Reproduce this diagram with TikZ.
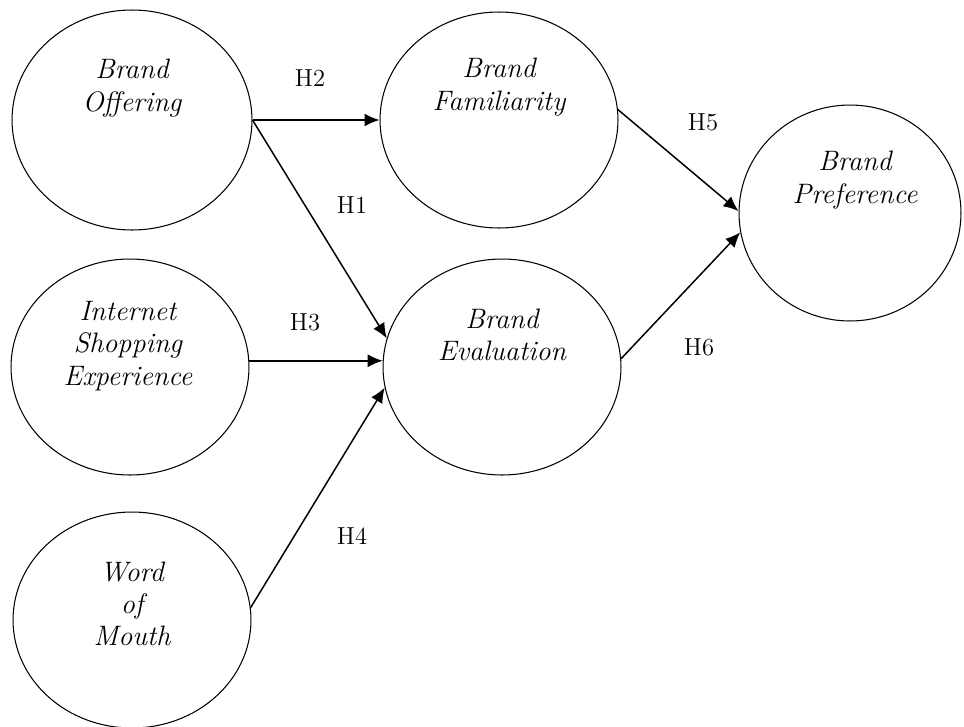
\documentclass[tikz,border=0pt]{standalone}
\usetikzlibrary{shapes.geometric}
\usetikzlibrary{arrows.meta}

\tikzset{
  construct/.style={draw, ellipse, line width=0.6pt, inner sep=0pt,
    minimum width=4.76cm, minimum height=4.32cm},
  cname/.style={align=center, inner sep=0pt,
    font=\fontsize{16}{18.4}\selectfont\itshape},
  hyp/.style={inner sep=0pt, font=\fontsize{14}{16}\selectfont},
  link/.style={line width=0.85pt, -{Latex[length=3mm,width=2.6mm]}}
}

\begin{document}
\begin{tikzpicture}[x=0.02cm,y=-0.02cm]

  \useasboundingbox (0,0) rectangle (964,727);

  \coordinate (offer-c) at (132,120);
  \coordinate (isx-c) at (130,367);
  \coordinate (wom-c) at (132,620);
  \coordinate (fam-c) at (499,120);
  \coordinate (eval-c) at (502,367);
  \coordinate (pref-c) at (850,213);

  % constructs
  \node[construct, minimum width=4.8cm, minimum height=4.4cm] (offer) at (offer-c) {};
  \node[construct] (isx) at (isx-c) {};
  \node[construct] (wom) at (wom-c) {};
  \node[construct] (fam) at (fam-c) {};
  \node[construct] (eval) at (eval-c) {};
  \node[construct, minimum width=4.44cm] (pref) at (pref-c) {};

  \node[cname] (offer-txt) at (132,88) {Brand\\Offering};
  \node[cname] (isx-txt) at (128,346) {Internet\\Shopping\\Experience};
  \node[cname] (wom-txt) at (132,604) {Word\\of\\Mouth};
  \node[cname] (fam-txt) at (499,87) {Brand\\Familiarity};
  \node[cname] (eval-txt) at (502,335) {Brand\\Evaluation};
  \node[cname] (pref-txt) at (855,180) {Brand\\Preference};

  % hypotheses
  \draw[link] (offer.east) -- (fam.west);
  \draw[link] (offer.east) -- (eval.166);
  \draw[link] (isx.3) -- (eval.177);
  \draw[link] (wom.6) -- (eval.190);
  \draw[link] (fam.5) -- (pref.179);
  \draw[link] (eval.4) -- (pref.190);

  \node[hyp] (h1) at (352,205) {H1};
  \node[hyp] (h2) at (310,78) {H2};
  \node[hyp] (h3) at (305,322) {H3};
  \node[hyp] (h4) at (352,536) {H4};
  \node[hyp] (h5) at (703,122) {H5};
  \node[hyp] (h6) at (699,347) {H6};

\end{tikzpicture}
\end{document}
